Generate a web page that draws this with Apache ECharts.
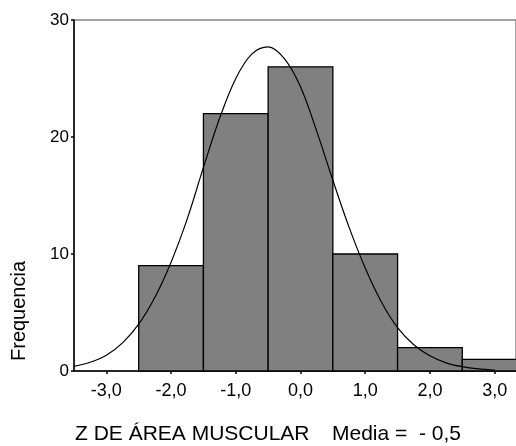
<!DOCTYPE html>
<html>
<head>
<meta charset="utf-8">
<script src="https://cdn.jsdelivr.net/npm/echarts@6/dist/echarts.min.js"></script>
<style>html,body{margin:0;padding:0;background:#fff;}#c{width:516px;height:446px;}</style>
</head>
<body>
<div id="c"></div>
<script>
// Histogram bins (centres) and frequencies
const binCenters = [-2, -1, 0, 1, 2, 3];
const binCounts = [9, 22, 26, 10, 2, 1];
// Fitted normal curve
const curveX = [-3.5, -3.25, -3.0, -2.75, -2.5, -2.25, -2.0, -1.75, -1.5, -1.25, -1.0, -0.75, -0.5, -0.25, 0.0, 0.25, 0.5, 0.75, 1.0, 1.25, 1.5, 1.75, 2.0, 2.25, 2.5, 2.75, 3.0];
const curveY = [0.4, 0.75, 1.35, 2.4, 4.0, 6.3, 9.3, 13.0, 17.4, 21.6, 25.0, 27.1, 27.7, 26.7, 24.3, 20.5, 16.3, 12.3, 8.8, 5.9, 3.7, 2.25, 1.3, 0.7, 0.37, 0.18, 0.08];
// Axis ticks
const xTicks = [-3, -2, -1, 0, 1, 2, 3];
const yTicks = [0, 10, 20, 30];
const xTitle = 'Z DE ÁREA MUSCULAR';
const xTitle2 = 'Media =  - 0,5';
const yTitle = 'Frequencia';

const FONT = 'Liberation Sans, Arial, sans-serif';
const chart = echarts.init(document.getElementById('c'));
const barData = binCenters.map((c, i) => [c - 0.5, c + 0.5, binCounts[i]]);
const curveData = curveX.map((x, i) => [x, curveY[i]]);

chart.setOption({
  animation: false,
  backgroundColor: '#fff',
  grid: { left: 74, top: 20, right: 0, height: 351, show: true, borderColor: '#444', borderWidth: 1, backgroundColor: 'transparent' },
  xAxis: {
    type: 'value', min: -3.5, max: 3.33,
    axisLine: { onZero: false, lineStyle: { color: '#000', width: 1.5 } },
    axisTick: { customValues: xTicks, length: 3, lineStyle: { color: '#000', width: 1.5 } },
    axisLabel: { customValues: xTicks, color: '#000', fontSize: 18, fontFamily: FONT, margin: 11,
      formatter: v => v.toFixed(1).replace('.', ',') },
    splitLine: { show: false }
  },
  yAxis: {
    type: 'value', min: 0, max: 30, interval: 10,
    axisLine: { show: true, onZero: false, lineStyle: { color: '#000', width: 1.5 } },
    axisTick: { show: true, customValues: yTicks, length: 3, lineStyle: { color: '#000', width: 1.5 } },
    axisLabel: { color: '#000', fontSize: 17, fontFamily: FONT, margin: 5 },
    splitLine: { show: false }
  },
  graphic: [
    { type: 'text', left: 75, top: 424, style: { text: xTitle, font: '21px ' + FONT, fill: '#000' } },
    { type: 'text', left: 332, top: 424, style: { text: xTitle2, font: '21px ' + FONT, fill: '#000' } },
    { type: 'text', x: 9, y: 361, rotation: Math.PI / 2, style: { text: yTitle, font: '20px ' + FONT, fill: '#000', textAlign: 'left', textVerticalAlign: 'top' } }
  ],
  series: [
    {
      type: 'custom', data: barData, z: 2,
      renderItem: (params, api) => {
        const p0 = api.coord([api.value(0), api.value(2)]);
        const p1 = api.coord([api.value(1), 0]);
        const cs = params.coordSys;
        const rect = echarts.graphic.clipRectByRect(
          { x: p0[0], y: p0[1], width: p1[0] - p0[0], height: p1[1] - p0[1] },
          { x: cs.x, y: cs.y, width: cs.width + 1, height: cs.height });
        return rect && { type: 'rect', shape: rect,
          style: { fill: '#808080', stroke: '#000', lineWidth: 1.3 } };
      },
      encode: { x: [0, 1], y: 2 }
    },
    {
      type: 'line', data: curveData, smooth: 0.35, symbol: 'none', z: 3,
      lineStyle: { color: '#000', width: 1.2 }
    }
  ]
});
</script>
</body>
</html>
